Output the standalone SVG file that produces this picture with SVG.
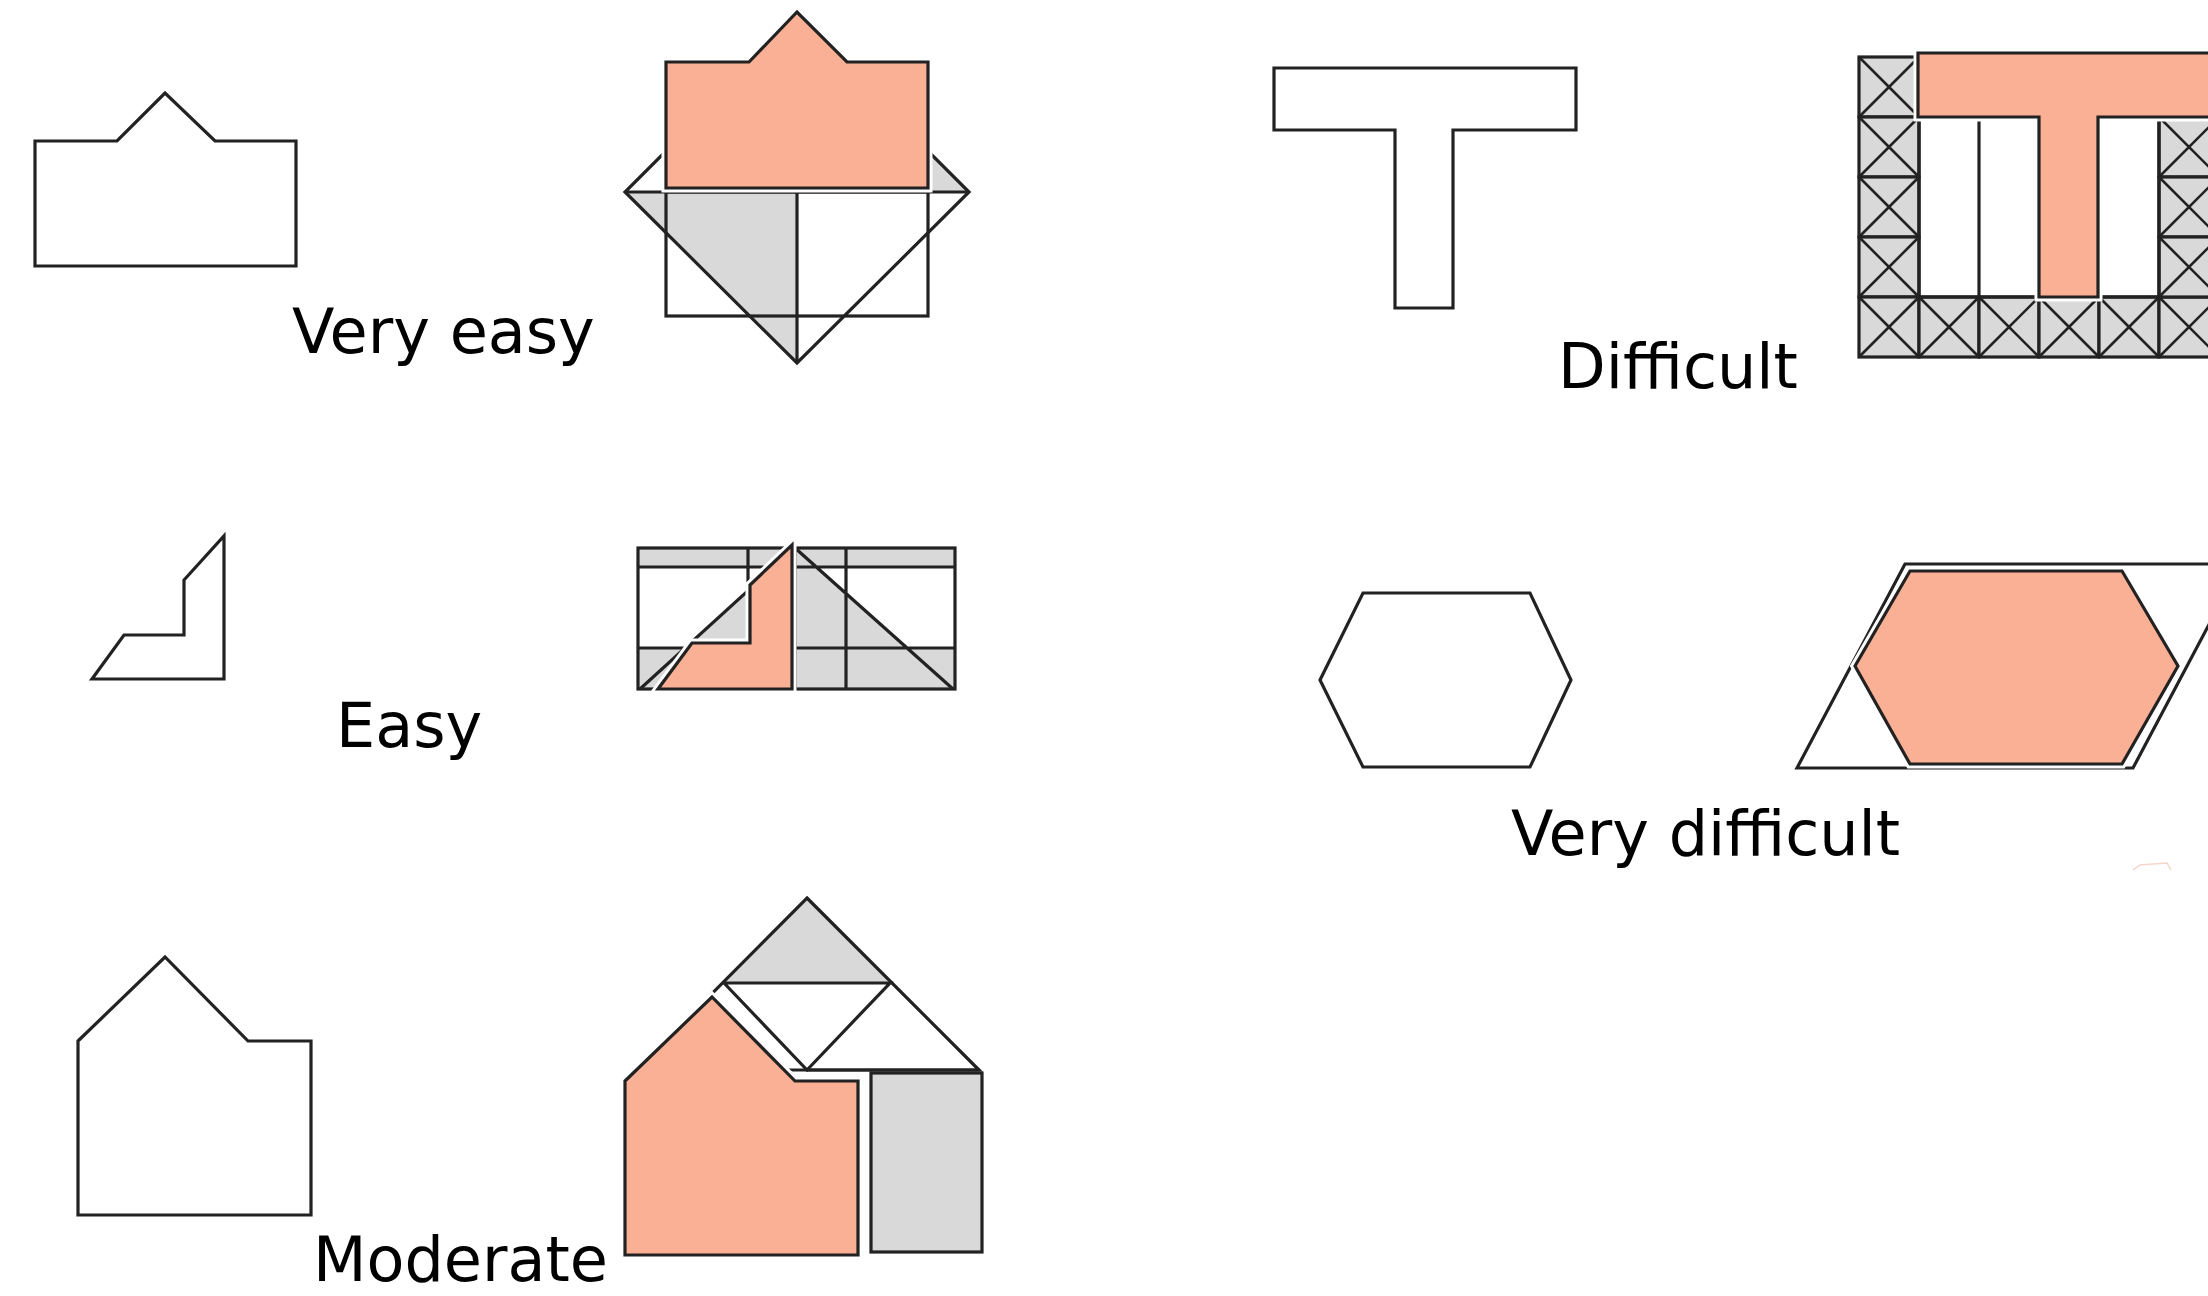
<svg xmlns="http://www.w3.org/2000/svg" xmlns:xlink="http://www.w3.org/1999/xlink" width="2208" height="1296" viewBox="0 0 2208 1296">
<style>
.ln{fill:none;stroke:#222;stroke-width:3.2;stroke-linejoin:miter}
.sh{fill:#ffffff;stroke:#222;stroke-width:3.2}
.gr{fill:#d9d9d9;stroke:none}
.halo{fill:none;stroke:#ffffff;stroke-width:9;stroke-linejoin:miter}
.sal{fill:#fab095;stroke:#222;stroke-width:3.2}
.lbl{font-family:"DejaVu Sans","Verdana",sans-serif;font-size:62px;fill:#000}
</style>
<defs>
<g id="xc"><rect width="60" height="60" fill="#d9d9d9" stroke="#222" stroke-width="3.2"/><path d="M0,0L60,60M60,0L0,60" fill="none" stroke="#222" stroke-width="2.6"/></g>
</defs>
<rect width="2208" height="1296" fill="#ffffff"/>

<g id="very-easy-shape">
<polygon class="sh" points="35,141 117,141 165,93 215,141 296,141 296,266 35,266"/>
</g>
<g id="very-easy-solution">
<polygon class="gr" points="797,20 969,192 797,192"/>
<polygon class="gr" points="625,192 797,192 797,363"/>
<rect class="ln" x="666" y="192" width="262" height="124"/>
<polygon class="ln" points="797,20 969,192 797,363 625,192"/>
<path class="ln" d="M625,192H969M797,192V363"/>
<polygon class="halo" points="666,62 749,62 797,12 847,62 928,62 928,188 666,188"/>
<polygon class="sal" points="666,62 749,62 797,12 847,62 928,62 928,188 666,188"/>
</g>

<g id="easy-shape">
<polygon class="sh" points="224,536 224,679 92,679 124,635 184,635 184,580"/>
</g>
<g id="easy-solution">
<rect class="gr" x="638" y="548" width="317" height="19"/>
<rect class="gr" x="638" y="648" width="317" height="41"/>
<polygon class="gr" points="795,548 640,689 953,689"/>
<rect class="ln" x="638" y="548" width="317" height="141"/>
<path class="ln" d="M638,567H955M638,648H955M748,548V689M795,548V689M846,548V689M640,689L795,548L953,689"/>
<polygon class="halo" stroke-width="5" points="792,545 792,689 658,689 692,643 750,643 750,585"/>
<polygon class="sal" points="792,545 792,689 658,689 692,643 750,643 750,585"/>
</g>

<g id="moderate-shape">
<polygon class="sh" points="78,1041 165,957 248,1041 311,1041 311,1215 78,1215"/>
</g>
<g id="moderate-solution">
<polygon class="gr" points="807,898 724,983 890,983"/>
<rect x="871" y="1073" width="111" height="179" fill="#d9d9d9" stroke="#222" stroke-width="3.2"/>
<polygon class="ln" points="807,898 979,1070 636,1070"/>
<path class="ln" d="M724,983H890L807,1070L724,983"/>
<path class="ln" stroke-width="4.5" d="M807,1070H980"/>
<polygon class="halo" points="625,1081 712,997 795,1081 858,1081 858,1255 625,1255"/>
<polygon class="sal" points="625,1081 712,997 795,1081 858,1081 858,1255 625,1255"/>
</g>

<g id="difficult-shape">
<polygon class="sh" points="1274,68 1576,68 1576,130 1453,130 1453,308 1395,308 1395,130 1274,130"/>
</g>
<g id="difficult-solution">
<use xlink:href="#xc" x="1859" y="57"/>
<use xlink:href="#xc" x="1859" y="117"/>
<use xlink:href="#xc" x="1859" y="177"/>
<use xlink:href="#xc" x="1859" y="237"/>
<use xlink:href="#xc" x="1859" y="297"/>
<use xlink:href="#xc" x="1919" y="297"/>
<use xlink:href="#xc" x="1979" y="297"/>
<use xlink:href="#xc" x="2039" y="297"/>
<use xlink:href="#xc" x="2099" y="297"/>
<use xlink:href="#xc" x="2159" y="297"/>
<use xlink:href="#xc" x="2159" y="117"/>
<use xlink:href="#xc" x="2159" y="177"/>
<use xlink:href="#xc" x="2159" y="237"/>
<rect class="ln" x="1919" y="117" width="120" height="180"/>
<path class="ln" d="M1979,117V297"/>
<rect class="ln" x="2099" y="117" width="60" height="180"/>
<polygon class="halo" points="1918,53 2218,53 2218,117 2098,117 2098,297 2039,297 2039,117 1918,117"/>
<polygon class="sal" points="1918,53 2218,53 2218,117 2098,117 2098,297 2039,297 2039,117 1918,117"/>
</g>

<g id="very-difficult-shape">
<polygon class="sh" points="1363,593 1530,593 1571,680 1530,767 1363,767 1320,680"/>
</g>
<g id="very-difficult-solution">
<polygon class="ln" stroke="#333" points="1797,768 1905,564 2241,564 2133,768"/>
<polygon class="halo" stroke-width="7" points="1910,571 2122,571 2178,666 2122,764 1910,764 1855,666"/>
<polygon class="sal" stroke-width="3.4" points="1910,571 2122,571 2178,666 2122,764 1910,764 1855,666"/>
<path d="M2133,870L2140,865L2167,863L2171,870" fill="none" stroke="#f6d6cb" stroke-width="1.5"/>
</g>

<g id="labels">
<text class="lbl" x="292" y="353">Very easy</text>
<text class="lbl" x="336" y="747">Easy</text>
<text class="lbl" x="313" y="1281">Moderate</text>
<text class="lbl" x="1558" y="388">Difficult</text>
<text class="lbl" x="1511" y="855">Very difficult</text>
</g>
</svg>
